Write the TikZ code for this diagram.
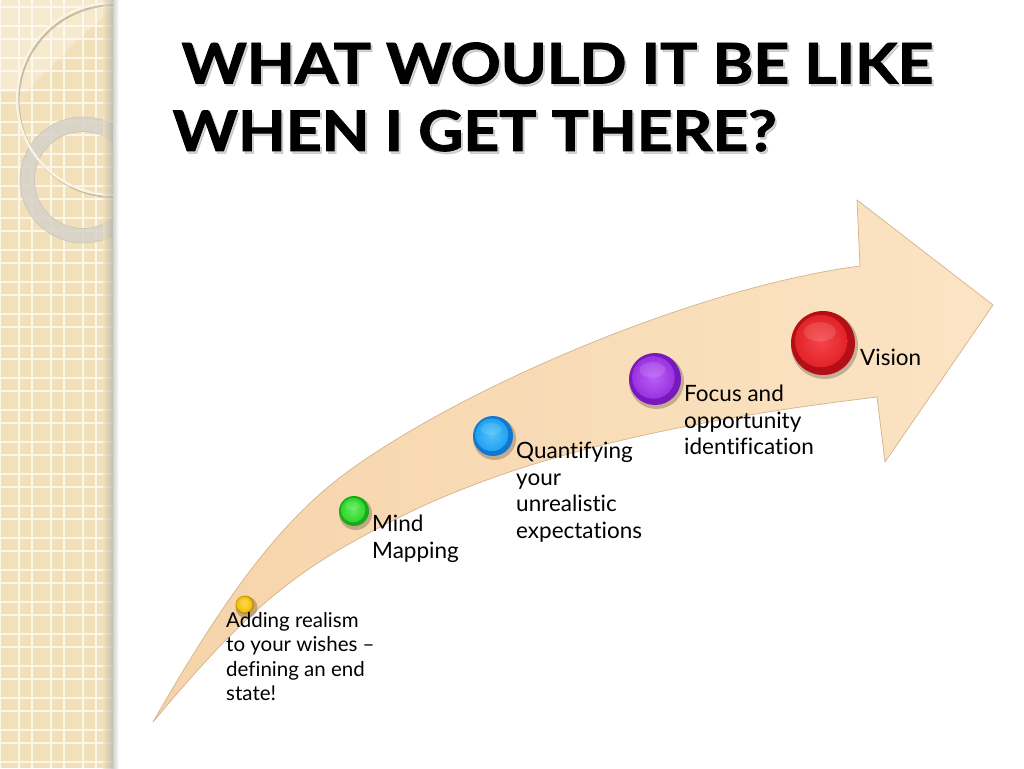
\documentclass[tikz,border=0pt]{standalone}
\usepackage{fontspec}
\usepackage{graphicx}
\setmainfont{Lato}[Ligatures=NoCommon]
\newfontfamily\titlefont{Lato}[BoldFeatures={FakeBold=1.6}]
\definecolor{stripc}{RGB}{241,224,186}
\definecolor{gridc}{RGB}{252,246,232}
\definecolor{arrowa}{RGB}{246,212,170}
\definecolor{arrowb}{RGB}{251,228,196}
\definecolor{arrowl}{RGB}{214,178,138}
\definecolor{ringc}{RGB}{214,210,202}
\definecolor{ringl}{RGB}{190,180,160}
\definecolor{thinc}{RGB}{250,244,230}
\definecolor{thins}{RGB}{170,150,120}
\definecolor{yrim}{RGB}{205,150,0}
\definecolor{ybase}{RGB}{240,190,20}
\definecolor{ylight}{RGB}{255,215,60}
\definecolor{grim}{RGB}{25,170,25}
\definecolor{gbase}{RGB}{45,215,45}
\definecolor{glight}{RGB}{100,235,90}
\definecolor{brim}{RGB}{15,120,210}
\definecolor{bbase}{RGB}{35,160,240}
\definecolor{blight}{RGB}{80,195,250}
\definecolor{prim}{RGB}{120,25,190}
\definecolor{pbase}{RGB}{155,50,225}
\definecolor{plight}{RGB}{185,95,245}
\definecolor{rrim}{RGB}{180,15,20}
\definecolor{rbase}{RGB}{225,35,40}
\definecolor{rlight}{RGB}{245,70,75}
\tikzset{
  gridline/.style={draw=gridc, line width=1.4pt},
  lbl/.style={anchor=north west, inner sep=0pt, align=left, font=\fontsize{22.5}{26.5}\selectfont},
  ttl/.style={anchor=north west, inner sep=0pt, font=\titlefont\bfseries\fontsize{56}{67.5}\selectfont},
  dot/.style={circle, inner sep=0pt, minimum size=#1}
}
\newcommand\glossball[7]{%
  \fill[black, opacity=0.22] (#1+1.5,#2+2.5) circle (#3 pt+1.5pt);
  \fill[#4] (#1,#2) circle (#3 pt);
  \shade[inner color=#6, outer color=#5] (#1-0.06*#3,#2-0.06*#3) circle (0.82*#3 pt);
  \fill[white, opacity=0.12] (#1-0.1*#3,#2-0.35*#3) ellipse (0.5*#3 pt and 0.3*#3 pt);
  \node[dot=2*#3 pt] (#7) at (#1,#2) {};
}
\newcommand\titletext{\scalebox{1.11}[1]{\begin{tabular}{@{}l@{}}\hspace*{8pt}WHAT WOULD IT BE LIKE\\WHEN I GET THERE?\end{tabular}}}
\begin{document}
\begin{tikzpicture}[x=1pt,y=-1pt]
\useasboundingbox (0,0) rectangle (1024,768);
\fill[white] (0,0) rectangle (1024,768);
% left decorative strip
\begin{scope}
  \clip (0,0) rectangle (113,768);
  \fill[stripc] (0,0) rectangle (113,768);
  \foreach \k in {0,...,3} {
    \draw[gridline] (32*\k+19,0) -- ++(0,768);
    \draw[gridline] (32*\k+32,0) -- ++(0,768);
  }
  \draw[gridline] (0.5,0) -- ++(0,768);
  \foreach \k in {0,...,24} {
    \draw[gridline] (0,32*\k+7) -- ++(113,0);
    \draw[gridline] (0,32*\k+26) -- ++(113,0);
  }
  \fill[white, opacity=0.30] (0,0) -- (113,0) -- (113,10) -- (85,32) -- (25,92) -- (0,92) -- cycle;
  \draw[ringc, opacity=0.85, line width=15pt] (83,180) circle (55.75pt);
  \draw[ringl, opacity=0.5, line width=0.6pt] (83,180) circle (63pt);
  \draw[ringl, opacity=0.5, line width=0.6pt] (83,180) circle (48.5pt);
  \draw[thins, opacity=0.55, line width=2.2pt] (114.5,101) circle (96pt);
  \draw[thinc, line width=2.4pt] (113,99) circle (96pt);
  \shade[left color=stripc, right color=black!35, opacity=0.6] (103,0) rectangle (113,768);
\end{scope}
\shade[left color=black!18, right color=white] (113,0) rectangle (119,768);
% title
\node[ttl, text=black!40, opacity=0.4] (titleshadow) at (174.5,38.5) {\titletext};
\node[ttl] (title) at (172.5,36) {\titletext};
% curved arrow
\shade[left color=arrowa, right color=arrowb, draw=arrowl, line width=0.7pt]
  (153,722) .. controls (218,609) and (275,524) .. (350,470)
  .. controls (470,383.6) and (700,286.8) .. (860,266)
  -- (857,200) -- (993,305) -- (885,462) -- (877,397)
  .. controls (697,418.6) and (530,452) .. (400,517)
  .. controls (300,567) and (253,602) .. (153,722)
  -- cycle;
% balls
\glossball{245}{605}{9.5}{yrim}{ybase}{ylight}{b1}
\glossball{354}{511}{15}{grim}{gbase}{glight}{b2}
\glossball{493}{436}{20}{brim}{bbase}{blight}{b3}
\glossball{655}{379}{26}{prim}{pbase}{plight}{b4}
\glossball{823}{343}{32}{rrim}{rbase}{rlight}{b5}
% labels
\node[lbl] (l5) at (860,349) {Vision};
\node[lbl] (l4) at (684,385) {Focus and\\opportunity\\identification};
\node[lbl] (l3) at (516,442) {Quantifying\\your\\unrealistic\\expectations};
\node[lbl] (l2) at (372,515) {Mind\\Mapping};
\node[lbl, font=\fontsize{20.5}{24.5}\selectfont] (l1) at (226,612) {Adding realism\\to your wishes --\\defining an end\\state!};
\end{tikzpicture}
\end{document}
